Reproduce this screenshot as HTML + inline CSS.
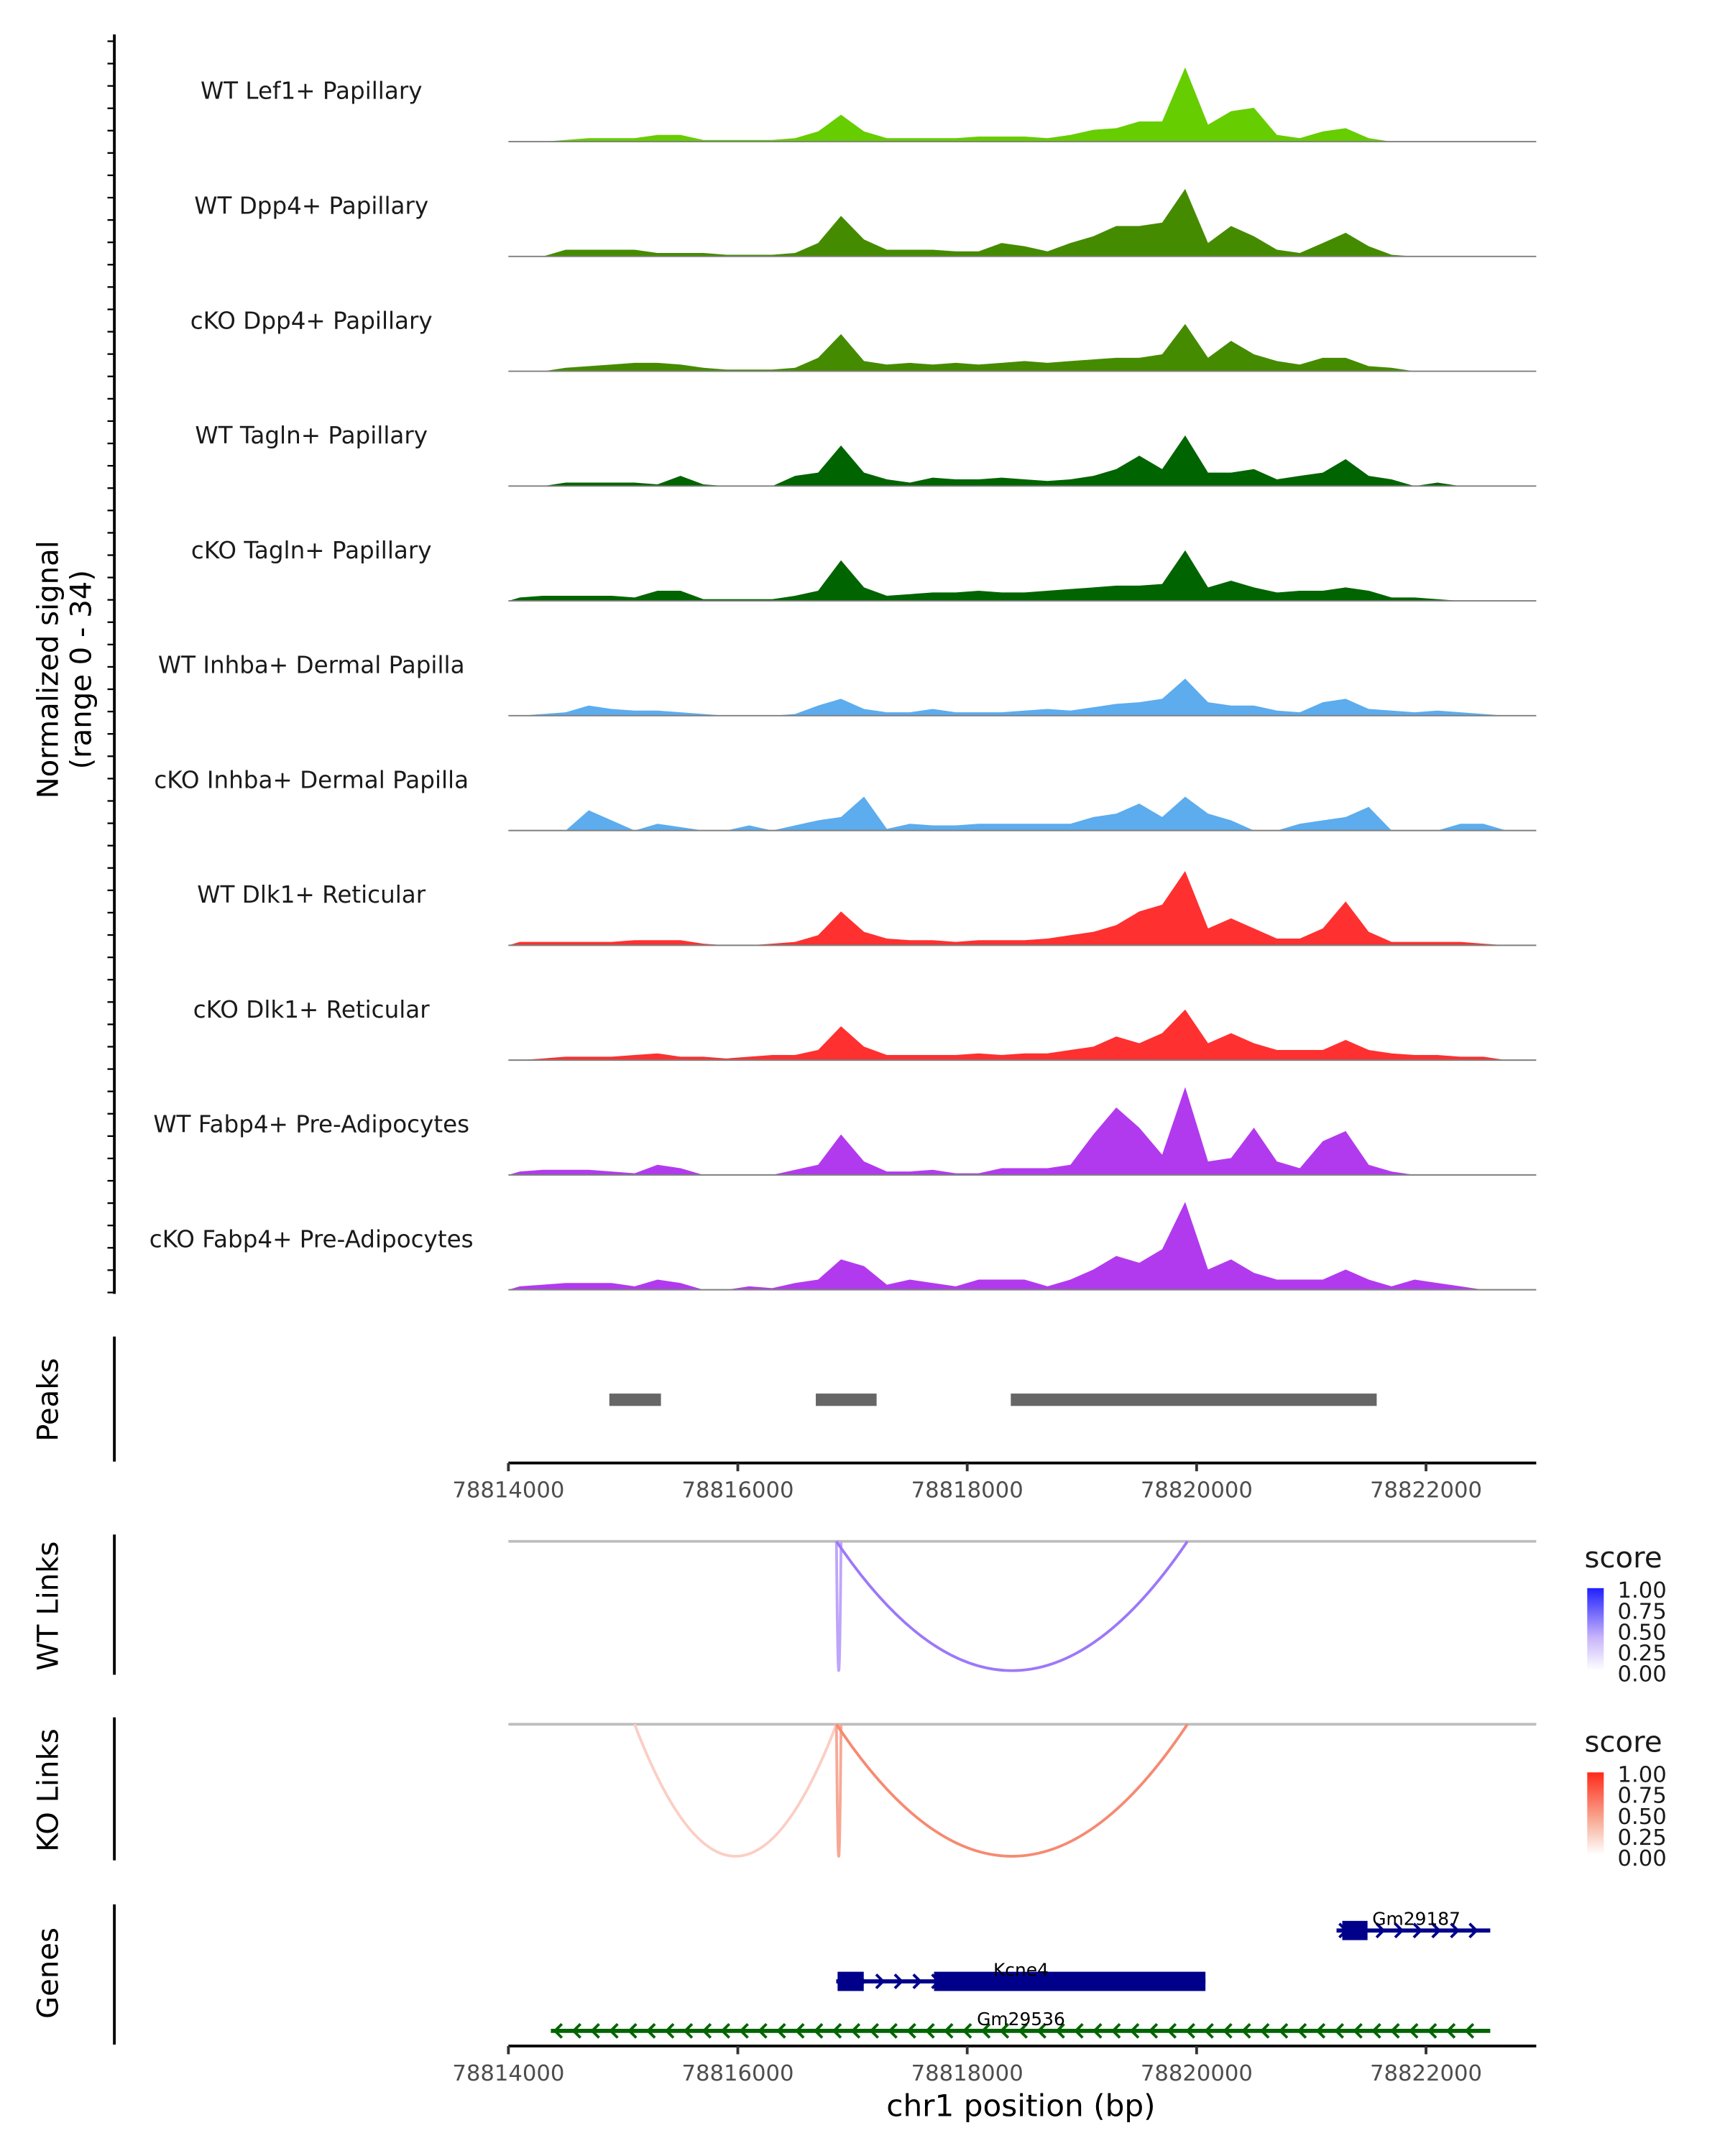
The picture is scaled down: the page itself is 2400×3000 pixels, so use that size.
<!DOCTYPE html>
<html><head><meta charset="utf-8"><style>html,body{margin:0;padding:0;background:#fff}svg{display:block}</style></head>
<body>
<svg id="chart" width="2400" height="3000" viewBox="0 0 1252 1568" preserveAspectRatio="none" xmlns="http://www.w3.org/2000/svg" font-family="'DejaVu Sans','Liberation Sans',sans-serif"></svg>
<script>
const binStart = 78814000;
const binSize = 200;
const trackNames = ["WT Lef1+ Papillary","WT Dpp4+ Papillary","cKO Dpp4+ Papillary","WT Tagln+ Papillary","cKO Tagln+ Papillary","WT Inhba+ Dermal Papilla","cKO Inhba+ Dermal Papilla","WT Dlk1+ Reticular","cKO Dlk1+ Reticular","WT Fabp4+ Pre-Adipocytes","cKO Fabp4+ Pre-Adipocytes"];
const trackColors = ["#66CD00","#458B00","#458B00","#006400","#006400","#5CACEE","#5CACEE","#FF3030","#FF3030","#B23AEE","#B23AEE"];
const sigLef1WT = [0,0,0.5,1,1,1,2,2,0.5,0.5,0.5,0.5,1,3,8,3,1,1,1,1,1.5,1.5,1.5,1,2,3.5,4,6,6,22,5,9,10,2,1,3,4,1,0,0,0,0,0,0,0];
const sigDpp4WT = [0,0,2,2,2,2,1,1,1,0.5,0.5,0.5,1,4,12,5,2,2,2,1.5,1.5,4,3,1.5,4,6,9,9,10,20,4,9,6,2,1,4,7,3,0.5,0,0,0,0,0,0];
const sigDpp4KO = [0,0,1,1.5,2,2.5,2.5,2,1,0.5,0.5,0.5,1,4,11,3,2,2.5,2,2.5,2,2.5,3,2.5,3,3.5,4,4,5,14,4,9,5,3,2,4,4,1.5,1,0,0,0,0,0,0];
const sigTaglnWT = [0,0,1,1,1,1,0.5,3,0.5,0,0,0,3,4,12,4,2,1,2.5,2,2,2.5,2,1.5,2,3,5,9,5,15,4,4,5,2,3,4,8,3,2,0,1,0,0,0,0];
const sigTaglnKO = [1,1.5,1.5,1.5,1.5,1,3,3,0.5,0.5,0.5,0.5,1.5,3,12,4,1.5,2,2.5,2.5,3,2.5,2.5,3,3.5,4,4.5,4.5,5,15,4,6,4,2.5,3,3,4,3,1,1,0.5,0,0,0,0];
const sigInhbaWT = [0,0.5,1,3,2,1.5,1.5,1,0.5,0,0,0,0.5,3,5,2,1,1,2,1,1,1,1.5,2,1.5,2.5,3.5,4,5,11,4,3,3,1.5,1,4,5,2,1.5,1,1.5,1,0.5,0,0];
const sigInhbaKO = [0,0,0,6,3,0,2,1,0,0,1.5,0,1.5,3,4,10,0.5,2,1.5,1.5,2,2,2,2,2,4,5,8,4,10,5,3,0,0,2,3,4,7,0,0,0,2,2,0,0];
const sigDlk1WT = [1,1,1,1,1,1.5,1.5,1.5,0.5,0,0,0.5,1,3,10,4,2,1.5,1.5,1,1.5,1.5,1.5,2,3,4,6,10,12,22,5,8,5,2,2,5,13,4,1,1,1,1,0.5,0,0];
const sigDlk1KO = [0,0.5,1,1,1,1.5,2,1,1,0.5,1,1.5,1.5,3,10,4,1.5,1.5,1.5,1.5,2,1.5,2,2,3,4,7,5,8,15,5,8,5,3,3,3,6,3,2,1.5,1.5,1,1,0,0];
const sigFabp4WT = [1,1.5,1.5,1.5,1,0.5,3,2,0,0,0,0,1.5,3,12,4,1,1,1.5,0.5,0.5,2,2,2,3,12,20,14,6,26,4,5,14,4,2,10,13,3,1,0,0,0,0,0,0];
const sigFabp4KO = [1,1.5,2,2,2,1,3,2,0,0,1,0.5,2,3,9,7,1.5,3,2,1,3,3,3,1,3,6,10,8,12,26,6,9,5,3,3,3,6,3,1,3,2,1,0,0,0];
const peakStarts = [78814880,78816680,78818380];
const peakEnds = [78815330,78817210,78821570];
const xTicks = [78814000,78816000,78818000,78820000,78822000];
const wtLinkStarts = [78816860,78816860];
const wtLinkEnds = [78816900,78819920];
const wtLinkScores = [0.4,0.6];
const koLinkStarts = [78815100,78816860,78816860];
const koLinkEnds = [78816860,78816900,78819920];
const koLinkScores = [0.25,0.45,0.6];
const legendTicks = ["1.00","0.75","0.50","0.25","0.00"];

const signals=[sigLef1WT,sigDpp4WT,sigDpp4KO,sigTaglnWT,sigTaglnKO,sigInhbaWT,sigInhbaKO,sigDlk1WT,sigDlk1KO,sigFabp4WT,sigFabp4KO];
const svg=document.getElementById('chart');
const NS="http://www.w3.org/2000/svg";
function mk(tag,attrs,parent){const e=document.createElementNS(NS,tag);for(const k in attrs)e.setAttribute(k,attrs[k]);(parent||svg).appendChild(e);return e;}
function txt(s,attrs,parent){const t=mk('text',attrs,parent);t.textContent=s;return t;}
const X0=369,X1=1115;
function xs(bp){return X0+(bp-78814000)*(666/8000);}
const trackH=83.5, firstBase=103, rangeMax=34;
function ys(v,base){return base-v/rangeMax*trackH;}

let g=mk('g',{});

mk('line',{x1:83,y1:25,x2:83,y2:941,stroke:'#000','stroke-width':2},g);
for(let y=30;y<=940;y+=16.25){mk('line',{x1:78,y1:y,x2:83,y2:y,stroke:'#000','stroke-width':1.2},g);}
let yt=txt('Normalized signal',{x:0,y:0,'font-size':21,'text-anchor':'middle',transform:'translate(42,487) rotate(-90)'});

let yt2=txt('(range 0 - 34)',{x:0,y:0,'font-size':21,'text-anchor':'middle',transform:'translate(66,487) rotate(-90)'});


signals.forEach((arr,ti)=>{
  const base=firstBase+ti*trackH;
  const tg=mk('g',{});
  
  let d='M'+xs(binStart)+','+base;
  arr.forEach((v,i)=>{d+=' L'+xs(binStart+i*binSize+binSize/2).toFixed(1)+','+ys(v,base).toFixed(1);});
  d+=' L'+xs(binStart+arr.length*binSize)+','+base+' Z';
  const p=mk('path',{d:d,fill:trackColors[ti],stroke:'none'},tg);
  
  mk('line',{x1:X0,y1:base,x2:X1,y2:base,stroke:'#7f7f7f','stroke-width':1},tg);
  const l=txt(trackNames[ti],{x:226,y:base-31,'font-size':17,'text-anchor':'middle',fill:'#1a1a1a'},tg);
  
});

function panelAxis(y1,y2,label,ly,name){
  const pg=mk('g',{});
  mk('line',{x1:83,y1:y1,x2:83,y2:y2,stroke:'#000','stroke-width':2},pg);
  const t=txt(label,{x:0,y:0,'font-size':21,'text-anchor':'middle',transform:'translate(42,'+ly+') rotate(-90)'},pg);
  
}
function xAxis(y,name){
  const ag=mk('g',{});
  mk('line',{x1:X0,y1:y,x2:X1,y2:y,stroke:'#000','stroke-width':2},ag);
  xTicks.forEach(t=>{const x=xs(t);mk('line',{x1:x,y1:y,x2:x,y2:y+6,stroke:'#333','stroke-width':2},ag);
    const tl=txt(String(t),{x:x,y:y+25,'font-size':16,'text-anchor':'middle',fill:'#4d4d4d'},ag);
    });
}
panelAxis(972,1063,'Peaks',1018,'peaks-panel');
peakStarts.forEach((s,i)=>{const r=mk('rect',{x:xs(s),y:1013.5,width:xs(peakEnds[i])-xs(s),height:9,fill:'#666'});
  });
xAxis(1064,'peaks-x-axis');

function linkPanel(top,bottom,label,starts,ends,scores,rgb,name){
  panelAxis(top-5,bottom+3,label,(top+bottom)/2,name);
  mk('line',{x1:X0,y1:top,x2:X1,y2:top,stroke:'#bdbdbd','stroke-width':2});
  starts.forEach((s,i)=>{
    const a=xs(s),b=xs(ends[i]),sc=scores[i];
    const c=`rgb(${Math.round(255+(rgb[0]-255)*sc)},${Math.round(255+(rgb[1]-255)*sc)},${Math.round(255+(rgb[2]-255)*sc)})`;
    const cy=2*bottom-top;
    const p=mk('path',{d:`M${a},${top} Q${(a+b)/2},${cy} ${b},${top}`,fill:'none',stroke:c,'stroke-width':2});
    
  });
}
linkPanel(1121,1215,'WT Links',wtLinkStarts,wtLinkEnds,wtLinkScores,[90,30,245],'wt-links-panel');
linkPanel(1254,1350,'KO Links',koLinkStarts,koLinkEnds,koLinkScores,[240,60,20],'ko-links-panel');

function legend(y,top,mid,bot,id,name){
  const lg=mk('g',{});
  const defs=mk('defs',{},lg);const gr=mk('linearGradient',{id:id,x1:0,y1:0,x2:0,y2:1},defs);
  mk('stop',{offset:0,'stop-color':top},gr);mk('stop',{offset:0.6,'stop-color':mid},gr);mk('stop',{offset:1,'stop-color':bot},gr);
  const t=txt('score',{x:1150,y:y,'font-size':21,fill:'#1a1a1a'},lg);
  
  mk('rect',{x:1152,y:y+15,width:12,height:60,fill:`url(#${id})`},lg);
  legendTicks.forEach((s,i)=>{const tl=txt(s,{x:1174,y:y+22+i*15.2,'font-size':16,fill:'#1a1a1a'},lg);
    });
}
legend(1140,'#2020ff','#c8b4fa','#ffffff','gw','wt-score-legend');
legend(1274,'#ff2a1a','#f8b09a','#ffffff','gk','ko-score-legend');

panelAxis(1385,1487,'Genes',1435,'genes-panel');
function chevrons(a,b,y,dir,color,pg){
  for(let x=a+5;x<b-3;x+=13.5){
    const d=dir>0?`M${x-3},${y-5} L${x+2},${y} L${x-3},${y+5}`:`M${x+3},${y-5} L${x-2},${y} L${x+3},${y+5}`;
    mk('path',{d:d,fill:'none',stroke:color,'stroke-width':2},pg);
  }
}
function gene(name,s,e,exonS,exonE,y,dir,color,lx){
  const pg=mk('g',{});
  mk('line',{x1:xs(s),y1:y,x2:xs(e),y2:y,stroke:color,'stroke-width':3},pg);
  chevrons(xs(s),xs(e),y,dir,color,pg);
  exonS.forEach((es,i)=>mk('rect',{x:xs(es),y:y-7,width:xs(exonE[i])-xs(es),height:14,fill:color},pg));
  const t=txt(name,{x:lx,y:y-4,'font-size':13,'text-anchor':'middle',fill:'#000'},pg);
  
}
gene('Gm29187',78821220,78822560,[78821270],[78821490],1404,1,'#00008B',1028);
gene('Kcne4',78816858,78820077,[78816870,78817711],[78817098,78820077],1441,1,'#00008B',741);
gene('Gm29536',78814370,78822560,[],[],1477,-1,'#006400',741);
xAxis(1488,'genes-x-axis');
const xt=txt('chr1 position (bp)',{x:741,y:1539,'font-size':22,'text-anchor':'middle',fill:'#000'});

</script>
</body></html>
